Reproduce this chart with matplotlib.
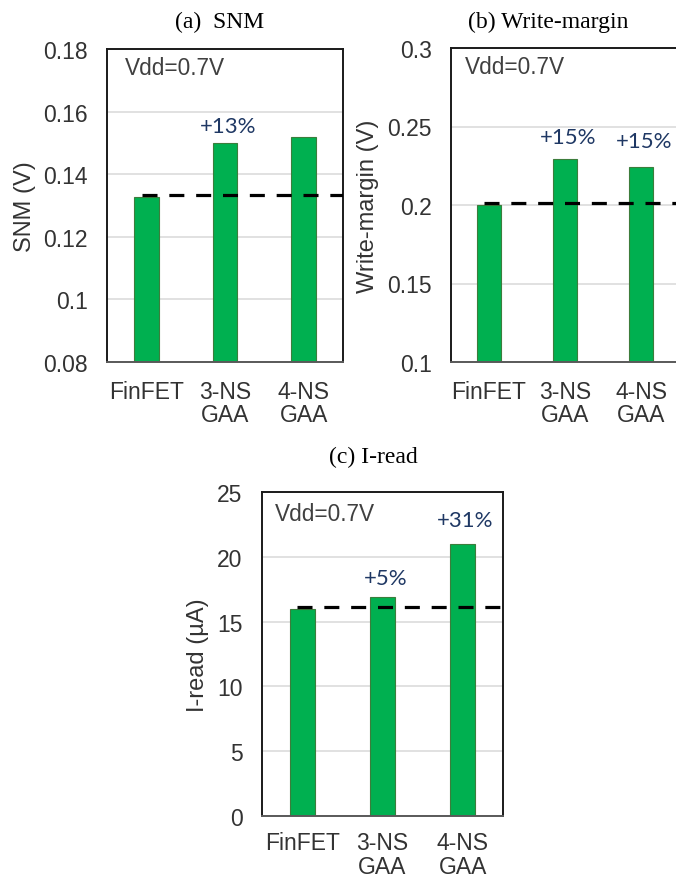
import matplotlib
matplotlib.use("Agg")
import matplotlib.pyplot as plt

# device options shared by all three panels
devices = ["FinFET", "3-NS\nGAA", "4-NS\nGAA"]

snm = [0.1326, 0.150, 0.152]
snm_ref = 0.1334
snm_gain = ["", "+13%", ""]

write_margin = [0.200, 0.229, 0.224]
wm_ref = 0.2012
wm_gain = ["", "+15%", "+15%"]

i_read = [16.0, 16.9, 21.0]
ir_ref = 16.1
ir_gain = ["", "+5%", "+31%"]

BAR = "#00B050"
BAR_EDGE = "#3C7D3C"
GRID = "#D9D9D9"
TXT = "#404040"
NAVY = "#1F3864"
SANS = ["Liberation Sans", "DejaVu Sans"]
SERIF = ["Liberation Serif", "DejaVu Serif"]
PCT = ["Lato", "DejaVu Sans"]

fig = plt.figure(figsize=(6.76, 8.79), dpi=100)


def panel(rect, values, ref, gains, gain_lift, ylim, yticks, ticklabels,
          ylabel, ylabel_x, vdd_xy, xpad=13):
    ax = fig.add_axes(rect)
    x = range(len(devices))
    ax.bar(x, values, width=0.31, color=BAR, edgecolor=BAR_EDGE, linewidth=0.8, zorder=2)
    ax.plot([-0.06, 2.5], [ref, ref], color="black", lw=2.3,
            dashes=(4.7, 3.7), zorder=3, solid_capstyle="butt")
    # percentage gain over the FinFET baseline, lifted a few points above each bar
    for xi, v, g, lift in zip(x, values, gains, gain_lift):
        if g:
            ax.annotate(g, (xi, v), xytext=(2, lift), textcoords="offset points",
                        ha="center", va="baseline", color=NAVY, fontsize=16, family=PCT)
    ax.text(vdd_xy[0], vdd_xy[1], "Vdd=0.7V", transform=ax.transAxes, ha="left",
            va="baseline", color=TXT, fontsize=16.3, family=SANS)
    ax.set_xlim(-0.5, 2.5)
    ax.set_ylim(*ylim)
    ax.set_yticks(yticks)
    ax.set_yticklabels(ticklabels, family=SANS, fontsize=16.5, color="#333333")
    ax.set_xticks(list(x))
    ax.set_xticklabels(devices, family=SANS, fontsize=16.5, color="#333333",
                       linespacing=1.02)
    ax.tick_params(axis="both", length=0)
    ax.tick_params(axis="y", pad=14)
    ax.tick_params(axis="x", pad=xpad)
    ax.yaxis.grid(True, color=GRID, lw=1.1, zorder=0)
    ax.set_axisbelow(True)
    for name, sp in ax.spines.items():
        sp.set_linewidth(1.4)
        sp.set_color("#1A1A1A" if name != "bottom" else "#595959")
    fig.text(ylabel_x, rect[1] + rect[3] / 2, ylabel, rotation=90, ha="center",
             va="center", fontsize=17, family=SANS, color="#333333")
    return ax


panel([107 / 676, 1 - 363 / 879, 236 / 676, 313 / 879], snm, snm_ref, snm_gain,
      [0, 8, 0], (0.08, 0.18), [0.08, 0.10, 0.12, 0.14, 0.16, 0.18],
      ["0.08", "0.1", "0.12", "0.14", "0.16", "0.18"], "SNM (V)", 25 / 676,
      (0.075, 0.92))

panel([451 / 676, 1 - 363 / 879, 228 / 676, 314 / 879], write_margin, wm_ref, wm_gain,
      [0, 11.5, 14.5], (0.1, 0.3), [0.1, 0.15, 0.2, 0.25, 0.3],
      ["0.1", "0.15", "0.2", "0.25", "0.3"], "Write-margin (V)", 368 / 676,
      (0.062, 0.92))

panel([262 / 676, 1 - 817 / 879, 241 / 676, 324 / 879], i_read, ir_ref, ir_gain,
      [0, 9.5, 13], (0, 25), [0, 5, 10, 15, 20, 25],
      ["0", "5", "10", "15", "20", "25"], "I-read (\u00b5A)", 198 / 676,
      (0.055, 0.914), xpad=11)

fig.text(220 / 676, 1 - 22 / 879, "(a)  SNM", ha="center", va="center",
         fontsize=17, family=SERIF, color="black")
fig.text(548 / 676, 1 - 22 / 879, "(b) Write-margin", ha="center", va="center",
         fontsize=17, family=SERIF, color="black")
fig.text(373 / 676, 1 - 457 / 879, "(c) I-read", ha="center", va="center",
         fontsize=17, family=SERIF, color="black")

fig.savefig("out.png", dpi=100)
